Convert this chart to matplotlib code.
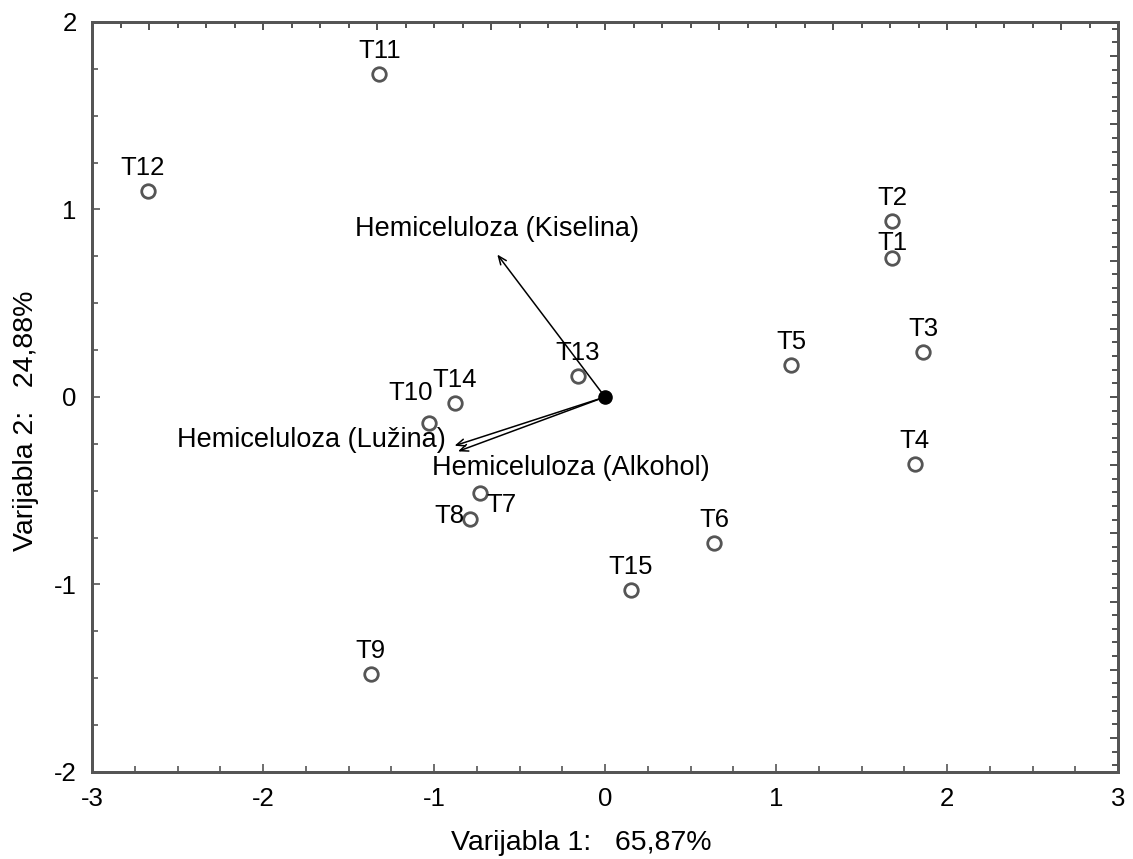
import matplotlib
matplotlib.use("Agg")
import matplotlib.pyplot as plt
from matplotlib.ticker import MultipleLocator, NullFormatter

plt.rcParams['font.family'] = ['Liberation Sans', 'DejaVu Sans']
plt.rcParams['axes.unicode_minus'] = False

# Case scores
cases = ["T1", "T2", "T3", "T4", "T5", "T6", "T7", "T8", "T9", "T10",
         "T11", "T12", "T13", "T14", "T15"]
score1 = [1.68, 1.68, 1.86, 1.81, 1.09, 0.64, -0.73, -0.79, -1.37, -1.03,
          -1.32, -2.67, -0.16, -0.88, 0.15]
score2 = [0.74, 0.94, 0.24, -0.36, 0.17, -0.78, -0.51, -0.65, -1.48, -0.14,
          1.72, 1.10, 0.11, -0.03, -1.03]

# Variable loadings (arrow tips)
variables = ["Hemiceluloza (Kiselina)", "Hemiceluloza (Lužina)", "Hemiceluloza (Alkohol)"]
load1 = [-0.63, -0.88, -0.86]
load2 = [0.76, -0.26, -0.29]

xlabel = "Varijabla 1:   65,87%"
ylabel = "Varijabla 2:   24,88%"

fig = plt.figure(figsize=(11.33, 8.59), dpi=100)
ax = fig.add_axes([0.0812, 0.1013, 0.9056, 0.8731])

gray = "#555555"
ax.scatter(score1, score2, s=95, facecolors="white", edgecolors=gray, linewidths=2.0, zorder=3)
ax.scatter([0], [0], s=90, color="black", zorder=4)

# label offsets (points)
default_off = (0, 8)
offsets = {"T1": (0, 2.5), "T10": (-13, 13), "T12": (-4, 8), "T7": (15, -9),
           "T8": (-15, 2)}
for name, x, y in zip(cases, score1, score2):
    dx, dy = offsets.get(name, default_off)
    ax.annotate(name, (x, y), xytext=(dx, dy), textcoords="offset points",
                ha="center", va="bottom" if name not in ("T7", "T8") else "center",
                fontsize=18.5, color="black", zorder=5)

for name, x, y in zip(variables, load1, load2):
    ax.annotate("", xy=(x, y), xytext=(0, 0),
                arrowprops=dict(arrowstyle="->,head_length=0.6,head_width=0.25",
                                color="black", lw=1.1, shrinkA=0, shrinkB=0), zorder=2)

lab_off = {variables[0]: ((0, 9), "center", "bottom"),
           variables[1]: ((-6, 4), "right", "center"),
           variables[2]: ((-19, -12), "left", "center")}
for name, x, y in zip(variables, load1, load2):
    (dx, dy), ha, va = lab_off[name]
    ax.annotate(name, (x, y), xytext=(dx, dy), textcoords="offset points",
                ha=ha, va=va, fontsize=19.5, zorder=5)

ax.set_xlim(-3, 3)
ax.set_ylim(-2, 2)
ax.xaxis.set_major_locator(MultipleLocator(1))
ax.xaxis.set_minor_locator(MultipleLocator(0.25))
ax.yaxis.set_major_locator(MultipleLocator(1))
ax.yaxis.set_minor_locator(MultipleLocator(0.25))
ax.tick_params(which="both", direction="in", top=False, right=False, color=gray,
               labelsize=18.5)
ax.tick_params(which="major", length=6, width=1.2, pad=11)
ax.tick_params(which="minor", length=4, width=1.2)
for s in ax.spines.values():
    s.set_color(gray)
    s.set_linewidth(2)

ax.set_xlabel(xlabel, fontsize=20.5, labelpad=12)
ax.set_ylabel(ylabel, fontsize=20.5, labelpad=12)
ax.xaxis.set_label_coords(0.477, -0.078)
ax.yaxis.set_label_coords(-0.052, 0.468)

# secondary scales (loadings) on top and right, unlabeled
axt = ax.twiny()
axt.set_xlim(-4.5, 4.5)
axt.xaxis.set_major_locator(MultipleLocator(1))
axt.xaxis.set_minor_locator(MultipleLocator(0.25))
axt.xaxis.set_major_formatter(NullFormatter())
axt.tick_params(which="both", direction="in", color="#333333", width=1.2)
axt.tick_params(which="major", length=6)
axt.tick_params(which="minor", length=4)

axr = ax.twinx()
axr.set_ylim(-5.5, 5.5)
axr.yaxis.set_major_locator(MultipleLocator(1))
axr.yaxis.set_minor_locator(MultipleLocator(0.2))
axr.yaxis.set_major_formatter(NullFormatter())
axr.tick_params(which="both", direction="in", color="#333333", width=1.2)
axr.tick_params(which="major", length=6)
axr.tick_params(which="minor", length=4)
for a in (axt, axr):
    for s in a.spines.values():
        s.set_color(gray)
        s.set_linewidth(2)

fig.savefig("out.png", dpi=100)
